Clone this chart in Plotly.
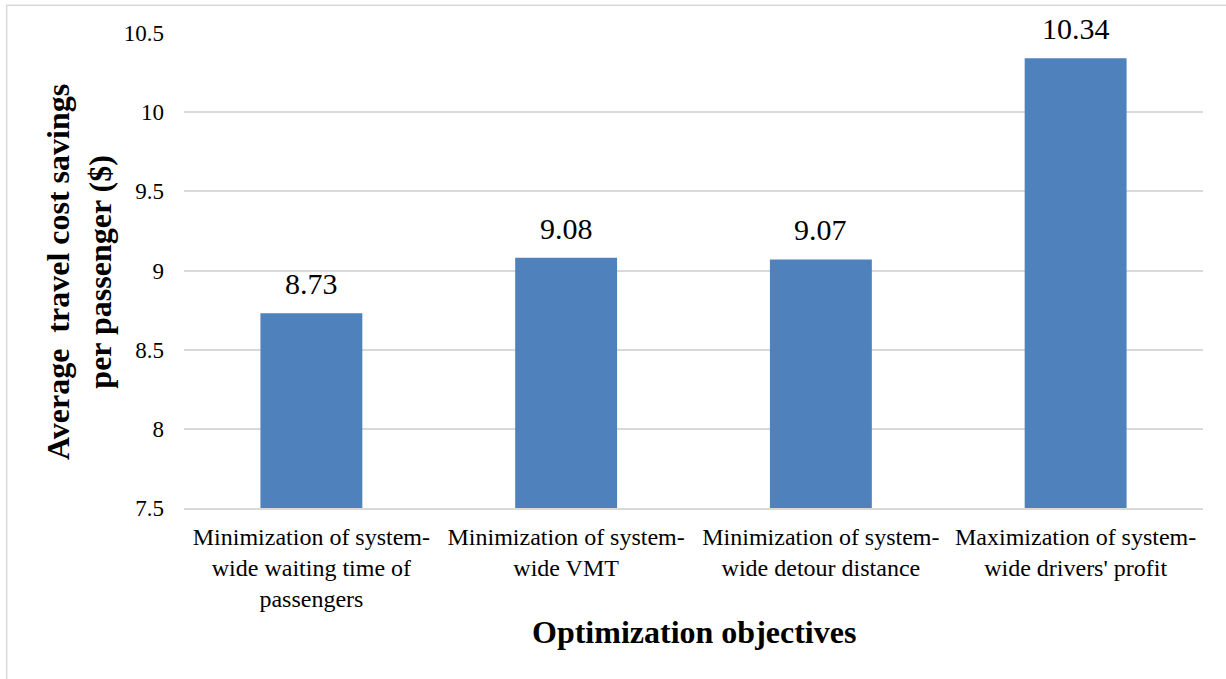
import plotly.graph_objects as go

categories = [
    "Minimization of system-<br>wide waiting time of<br>passengers",
    "Minimization of system-<br>wide VMT",
    "Minimization of system-<br>wide detour distance",
    "Maximization of system-<br>wide drivers' profit",
]
values = [8.73, 9.08, 9.07, 10.34]
value_labels = ["8.73", "9.08", "9.07", "10.34"]
y_title = "Average  travel cost savings<br>per passenger ($)"
x_title = "Optimization objectives"

FONT = "Liberation Serif"
W, H = 1226, 679
L, R, T, B = 184, 23, 33, 171
PW, PH = W - L - R, H - T - B

def px(x):
    return (x - L) / PW

def py(y):
    return (H - B - y) / PH

fig = go.Figure()
fig.add_trace(go.Bar(
    x=categories, y=values,
    marker=dict(color="#4F81BD", line=dict(width=0)),
    width=0.4,
    hoverinfo="skip",
))

annotations = []
for c, v, t in zip(categories, values, value_labels):
    annotations.append(dict(
        x=c, y=v, xref="x", yref="y", text=t, showarrow=False,
        yanchor="bottom", xanchor="center", yshift=11,
        font=dict(family=FONT, size=30, color="#000000"),
    ))
annotations.append(dict(
    x=px(79), y=py(272), xref="paper", yref="paper", text="<b>" + y_title + "</b>",
    textangle=-90, showarrow=False, xanchor="center", yanchor="middle",
    font=dict(family=FONT, size=32, color="#000000"),
))
annotations.append(dict(
    x=0.5, y=py(632), xref="paper", yref="paper", text="<b>" + x_title + "</b>",
    showarrow=False, xanchor="center", yanchor="middle",
    font=dict(family=FONT, size=32, color="#000000"),
))

fig.update_layout(
    width=W, height=H,
    margin=dict(l=L, r=R, t=T, b=B, autoexpand=False),
    paper_bgcolor="white", plot_bgcolor="white",
    showlegend=False,
    annotations=annotations,
    shapes=[dict(
        type="rect", xref="paper", yref="paper",
        x0=px(6.7), x1=px(1260), y0=py(720), y1=py(5.3),
        line=dict(color="#d9d9d9", width=1.5), fillcolor="rgba(0,0,0,0)",
        layer="below",
    )],
    font=dict(family=FONT, color="#000000"),
)
fig.update_xaxes(
    showgrid=False, showline=True, linecolor="#d9d9d9", linewidth=1.5,
    ticks="", tickfont=dict(family=FONT, size=24, color="#000000"),
    ticklabelstandoff=6,
)
fig.update_yaxes(
    range=[7.5, 10.5], dtick=0.5, tick0=7.5,
    showgrid=True, gridcolor="#d9d9d9", gridwidth=1.5,
    zeroline=False, showline=False, ticks="",
    tickfont=dict(family=FONT, size=23, color="#000000"),
    ticklabelstandoff=19,
)

fig.write_html(
    "out.html",
    config={"displayModeBar": False},
    post_script="document.body.style.margin='0px';",
)
